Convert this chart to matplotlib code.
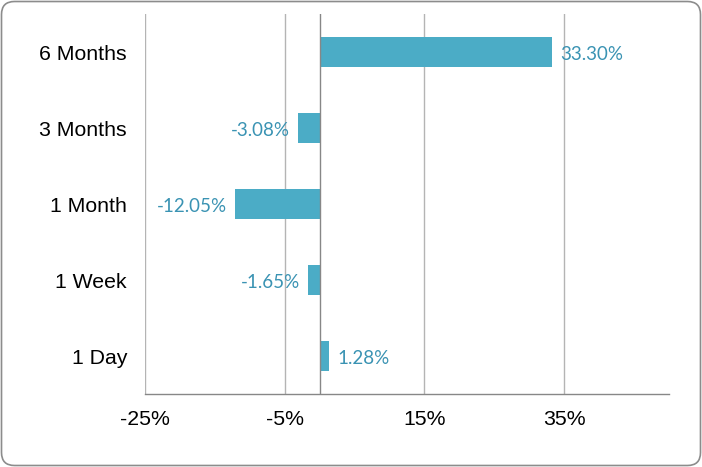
import matplotlib
matplotlib.use("Agg")
import matplotlib.pyplot as plt
from matplotlib.patches import FancyBboxPatch
from matplotlib.ticker import FuncFormatter

categories = ["1 Day", "1 Week", "1 Month", "3 Months", "6 Months"]
values = [1.28, -1.65, -12.05, -3.08, 33.30]
xticks = [-25, -5, 15, 35]

W, H = 702, 467
fig = plt.figure(figsize=(W / 100, H / 100), dpi=100)
fig.patch.set_facecolor("white")

ax = fig.add_axes([145 / W, 1 - 394 / H, (669 - 145) / W, (394 - 14) / H])
y = list(range(len(categories)))
ax.barh(y, values, height=0.40, color="#4BACC6", zorder=3)

ax.set_xlim(-25, 50)
ax.set_ylim(-0.5, len(categories) - 0.5)
ax.set_xticks(xticks)
ax.xaxis.set_major_formatter(FuncFormatter(lambda v, p: f"{v:.0f}%"))
ax.set_yticks(y)
ax.set_yticklabels(categories)

for t in ax.get_xticklabels() + ax.get_yticklabels():
    t.set_fontfamily("Liberation Sans")
    t.set_fontsize(15.3)
    t.set_color("black")
ax.tick_params(axis="x", length=0, pad=11.5)
ax.tick_params(axis="y", length=0, pad=13)

ax.grid(axis="x", color="#B4B4B4", linewidth=1.0, zorder=0)
ax.grid(axis="y", visible=False)
for s in ["top", "right", "left"]:
    ax.spines[s].set_visible(False)
ax.spines["bottom"].set_color("#878787")
ax.spines["bottom"].set_linewidth(1.0)
ax.axvline(0, color="#878787", linewidth=1.0, zorder=4)

for yi, v in zip(y, values):
    if v >= 0:
        ax.annotate(f"{v:.2f}%", (v, yi), xytext=(6, -1.5), textcoords="offset points",
                    ha="left", va="center", fontsize=13.5, family="Lato", color="#3A93B3")
    else:
        ax.annotate(f"{v:.2f}%", (v, yi), xytext=(-6, -1.5), textcoords="offset points",
                    ha="right", va="center", fontsize=13.5, family="Lato", color="#3A93B3")

border = FancyBboxPatch((0.015, 0.015), W / 100 - 0.03, H / 100 - 0.03,
                        boxstyle="round,pad=0,rounding_size=0.13",
                        transform=fig.dpi_scale_trans, facecolor="none",
                        edgecolor="#8C8C8C", linewidth=1.2)
fig.add_artist(border)

fig.savefig("out.png", dpi=100, facecolor="white")
